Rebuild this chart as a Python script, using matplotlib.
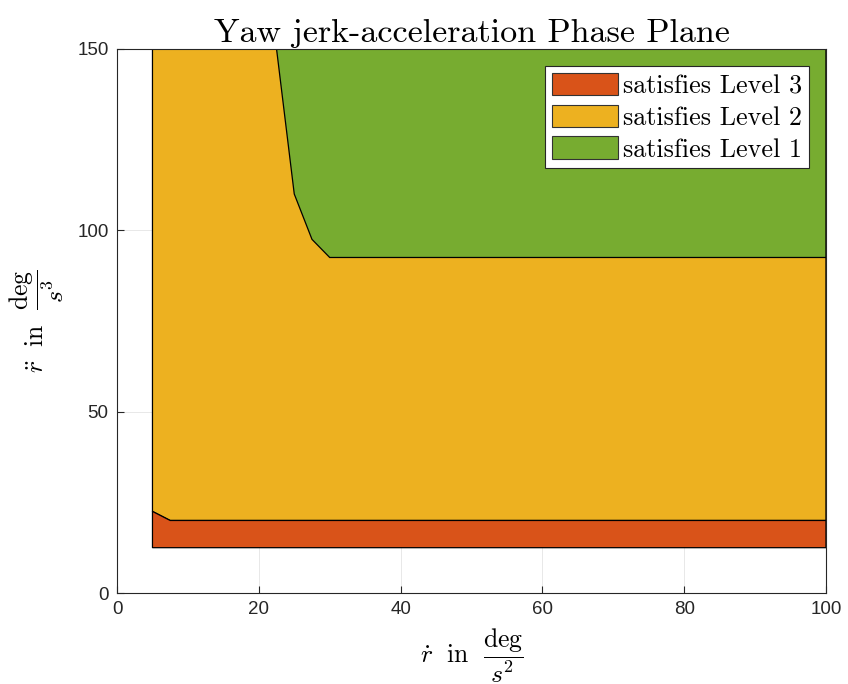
import matplotlib
matplotlib.use("Agg")
import matplotlib.pyplot as plt
from matplotlib.patches import Polygon, Patch

plt.rcParams['mathtext.fontset'] = 'cm'
plt.rcParams['font.family'] = ['Liberation Sans', 'DejaVu Sans']

# Region boundaries (x: r-dot in deg/s^2, y: r-ddot in deg/s^3)
level3_x = [5, 100, 100, 7.5, 5]
level3_y = [12.5, 12.5, 20, 20, 22.5]
level2_x = [5, 7.5, 100, 100, 5]
level2_y = [22.5, 20, 20, 150, 150]
level1_x = [22.5, 25, 27.5, 30, 100, 100]
level1_y = [150, 110, 97.5, 92.5, 92.5, 150]

labels = ['satisfies Level 3', 'satisfies Level 2', 'satisfies Level 1']
colors = ['#D95319', '#EDB120', '#77AC30']
xticks = [0, 20, 40, 60, 80, 100]
yticks = [0, 50, 100, 150]

fig = plt.figure(figsize=(8.48, 6.84), dpi=100)
ax = fig.add_axes([0.138, 0.133, 0.836, 0.7955])

for xs, ys, c in [(level2_x, level2_y, colors[1]),
                  (level3_x, level3_y, colors[0]),
                  (level1_x, level1_y, colors[2])]:
    ax.add_patch(Polygon(list(zip(xs, ys)), closed=True, facecolor=c,
                         edgecolor='black', linewidth=0.9, zorder=2))

ax.set_xlim(0, 100)
ax.set_ylim(0, 150)
ax.set_xticks(xticks)
ax.set_yticks(yticks)
ax.grid(True, color='#262626', alpha=0.12, linewidth=0.6, zorder=0)
ax.set_axisbelow(True)
for s in ax.spines.values():
    s.set_color('#262626')
    s.set_linewidth(0.8)
    s.set_zorder(3)
ax.tick_params(direction='in', length=5, width=0.8, color='#262626',
               labelsize=13.5, labelcolor='#262626', top=False, right=False, pad=6)

ax.set_title('Yaw jerk-acceleration Phase Plane', family='cmr10', fontsize=24.5, pad=5)
ax.set_xlabel(r'$\dot{r}\ \ \mathrm{in}\ \ \dfrac{\mathrm{deg}}{s^2}$', fontsize=18.5, labelpad=6)
ax.set_ylabel(r'$\ddot{r}\ \ \mathrm{in}\ \ \dfrac{\mathrm{deg}}{s^3}$', fontsize=18.5, labelpad=8)

handles = [Patch(facecolor=colors[i], edgecolor='#333333', linewidth=0.8, label=labels[i])
           for i in range(3)]
leg = ax.legend(handles=handles, loc='upper right', bbox_to_anchor=(0.976, 0.968),
                prop={'family': 'cmr10', 'size': 18.8}, frameon=True, fancybox=False,
                edgecolor='#262626', framealpha=1, handlelength=2.54, handleheight=0.95,
                handletextpad=0.19, labelspacing=0.25, borderpad=0.25, borderaxespad=0)
leg.get_frame().set_linewidth(0.8)

fig.savefig('out.png', dpi=100)
